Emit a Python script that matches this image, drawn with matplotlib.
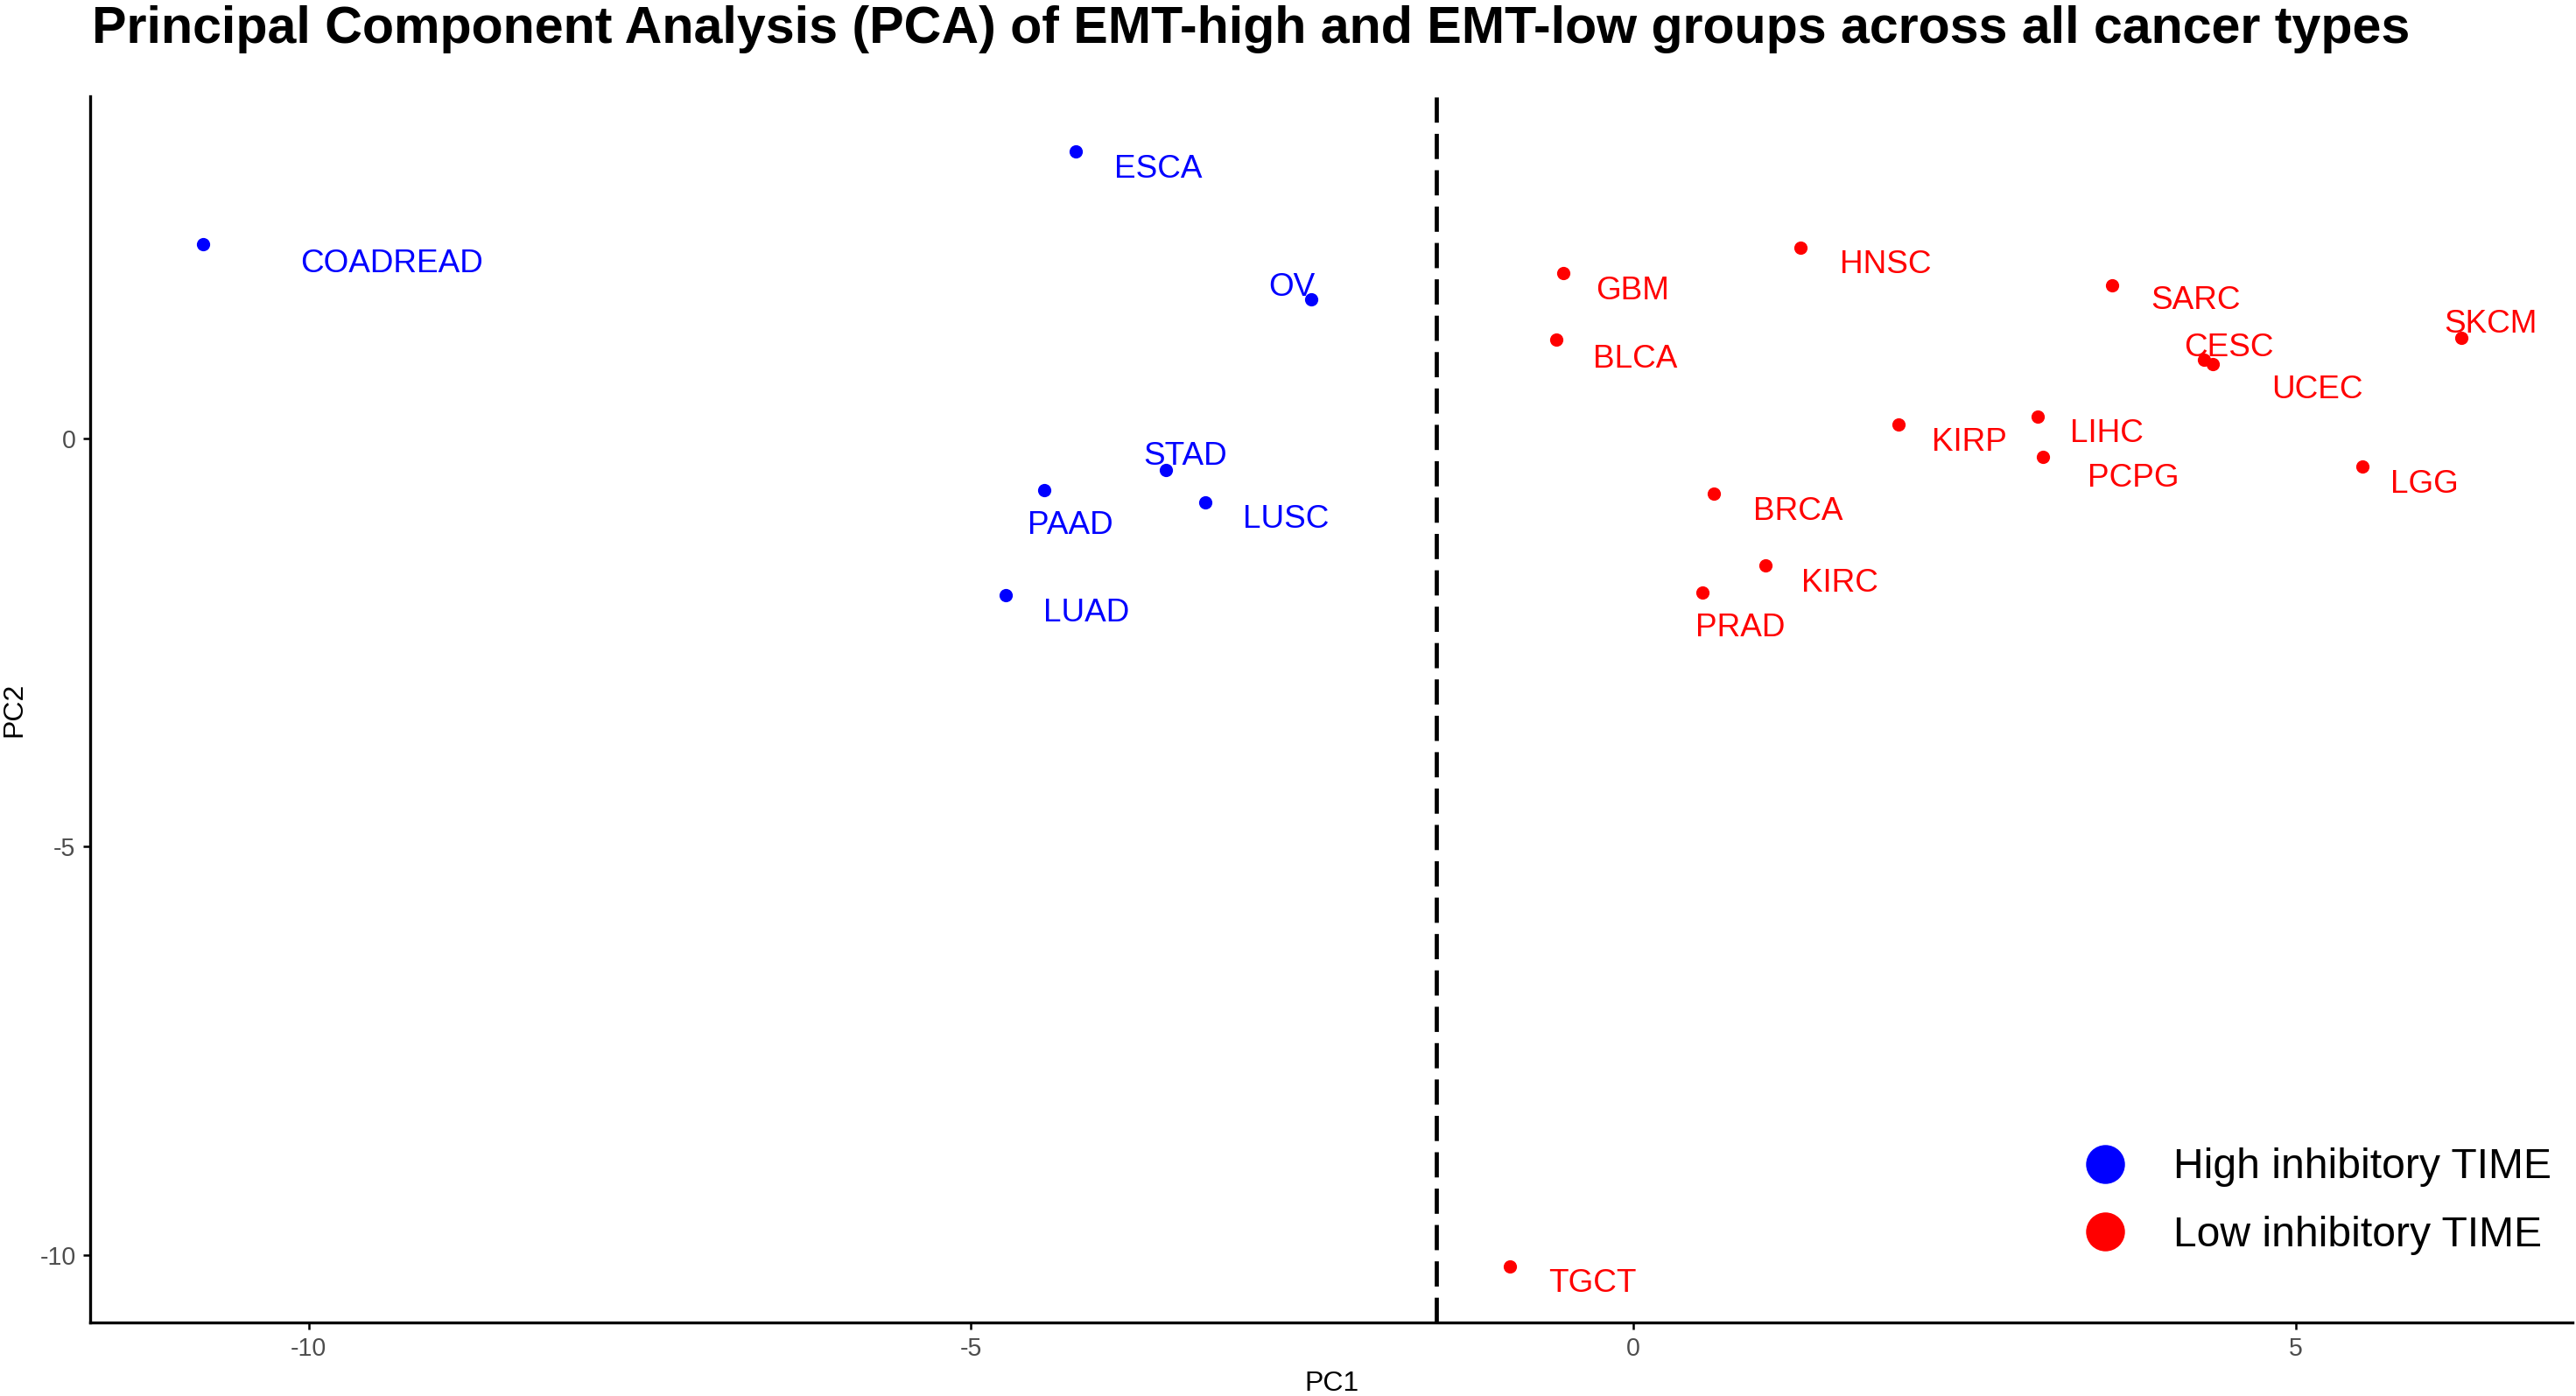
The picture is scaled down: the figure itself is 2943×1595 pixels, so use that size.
import numpy as np
import matplotlib
matplotlib.use("Agg")
import matplotlib.pyplot as plt
from matplotlib.lines import Line2D

plt.rcParams['font.family'] = ['Liberation Sans', 'DejaVu Sans']

# --- data ---
high_names = ['COADREAD', 'ESCA', 'OV', 'STAD', 'PAAD', 'LUSC', 'LUAD']
high_pc1 = [-10.80, -4.21, -2.43, -3.53, -4.45, -3.23, -4.74]
high_pc2 = [2.38, 3.51, 1.70, -0.39, -0.63, -0.78, -1.92]

low_names = ['GBM', 'BLCA', 'HNSC', 'SARC', 'SKCM', 'CESC', 'UCEC', 'KIRP',
             'LIHC', 'PCPG', 'LGG', 'BRCA', 'KIRC', 'PRAD', 'TGCT']
low_pc1 = [-0.53, -0.58, 1.26, 3.61, 6.25, 4.31, 4.37, 2.00,
           3.05, 3.09, 5.50, 0.61, 1.00, 0.52, -0.93]
low_pc2 = [2.02, 1.21, 2.34, 1.88, 1.23, 0.96, 0.91, 0.17,
           0.27, -0.23, -0.35, -0.68, -1.56, -1.89, -10.14]

cutoff_pc1 = -1.49
groups = ['High inhibitory TIME', 'Low inhibitory TIME']

# label offsets (points), roughly like ggrepel placed them
label_offsets = {
    'COADREAD': (77.7, -8.0), 'ESCA': (33.8, -7.3), 'OV': (-8.1, 4.9),
    'STAD': (8.1, 5.6), 'PAAD': (10.8, -14.7), 'LUSC': (33.1, -7.3),
    'LUAD': (33.1, -7.3), 'GBM': (28.4, -7.3), 'BLCA': (32.4, -8.0),
    'HNSC': (35.2, -7.3), 'SARC': (34.5, -6.6), 'SKCM': (12.2, 5.6),
    'CESC': (10.1, 4.9), 'UCEC': (43.3, -10.7), 'KIRP': (29.1, -7.3),
    'LIHC': (28.4, -7.3), 'PCPG': (37.2, -8.6), 'LGG': (25.7, -7.3),
    'BRCA': (34.5, -7.3), 'KIRC': (30.4, -7.3), 'PRAD': (15.5, -14.7),
    'TGCT': (33.8, -7.3),
}

col_high = '#0000FF'
col_low = '#FF0000'

fig = plt.figure(figsize=(14.715, 7.975), dpi=200)
ax = fig.add_axes([0.035, 0.0527, 0.9637, 0.8783])

ax.scatter(high_pc1, high_pc2, s=30, color=col_high, linewidths=0, zorder=3)
ax.scatter(low_pc1, low_pc2, s=30, color=col_low, linewidths=0, zorder=3)

for names, xs, ys, c in [(high_names, high_pc1, high_pc2, col_high),
                         (low_names, low_pc1, low_pc2, col_low)]:
    for n, x, y in zip(names, xs, ys):
        ax.annotate(n, (x, y), xytext=label_offsets[n], textcoords='offset points',
                    ha='center', va='center', color=c, fontsize=13.3)

ax.axvline(cutoff_pc1, color='black', lw=1.7, dashes=(6.1, 2.7), zorder=2)

ax.set_xlim(-11.65, 7.09)
ax.set_ylim(-10.83, 4.19)
ax.set_xticks([-10, -5, 0, 5])
ax.set_yticks([-10, -5, 0])
ax.set_xticklabels(['-10', '-5', '0', '5'])
ax.set_yticklabels(['-10', '-5', '0'])
ax.tick_params(length=2.9, width=0.9, labelsize=10.3, labelcolor='#4d4d4d', pad=3)

for side in ['top', 'right']:
    ax.spines[side].set_visible(False)
for side in ['left', 'bottom']:
    ax.spines[side].set_linewidth(1.2)

ax.set_xlabel('PC1', fontsize=11.5, labelpad=4)
ax.set_ylabel('PC2', fontsize=11.5, labelpad=5)

handles = [Line2D([], [], marker='o', ls='none', markersize=16, color=col_high, markeredgewidth=0),
           Line2D([], [], marker='o', ls='none', markersize=16, color=col_low, markeredgewidth=0)]
ax.legend(handles, groups, loc='center left', bbox_to_anchor=(0.796, 0.0986),
          frameon=False, fontsize=17.3, handlelength=1.85, handletextpad=0.69,
          labelspacing=0.68, borderpad=0, borderaxespad=0)

fig.text(0.0357, 0.969, 'Principal Component Analysis (PCA) of EMT-high and EMT-low groups across all cancer types',
         fontsize=21.3, fontweight='bold', ha='left', va='baseline')

fig.savefig('out.png', dpi=200)
